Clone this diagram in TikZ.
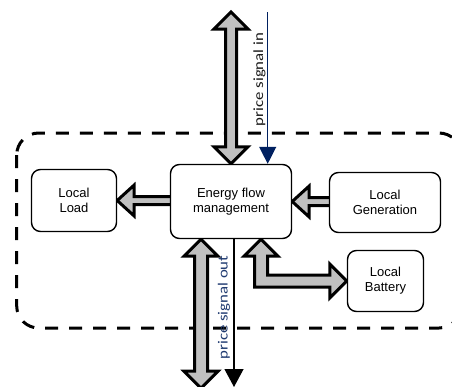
\documentclass[tikz,border=0pt]{standalone}
\usepackage{fontspec}
\setmainfont{Liberation Sans}
\newfontfamily\labelfont{Carlito}
\usetikzlibrary{calc,arrows.meta}
\definecolor{signalnavy}{HTML}{002060}
\definecolor{signaltext}{HTML}{1F3A70}
\definecolor{flowgray}{HTML}{C0C0C0}

% vertical two-headed energy flow: #1 upper tip, #2 lower tip, #3 shaft half width
\newcommand\updownflow[3]{%
  \draw[flow] (#1) -- ($(#1)+(17,17)$) -- ($(#1)+(#3,17)$) -- ($(#2)+(#3,-17)$)
    -- ($(#2)+(17,-17)$) -- (#2) -- ($(#2)+(-17,-17)$) -- ($(#2)+(-#3,-17)$)
    -- ($(#1)+(-#3,17)$) -- ($(#1)+(-17,17)$) -- cycle;}
% left-pointing energy flow: #1 tip, #2 tail
\newcommand\leftflow[2]{%
  \draw[flow] (#1) -- ($(#1)+(17,-15.5)$) -- ($(#1)+(17,-4)$) -- ($(#2)+(0,-4)$)
    -- ($(#2)+(0,4)$) -- ($(#1)+(17,4)$) -- ($(#1)+(17,15.5)$) -- cycle;}

\begin{document}
\begin{tikzpicture}[x=1pt,y=-1pt,
  unit/.style={draw, fill=white, line width=1.4pt, rounded corners=9pt,
    align=center, inner sep=0pt, font=\fontsize{13}{15}\selectfont},
  flow/.style={fill=flowgray, draw=black, line width=3pt, line join=miter},
  boundary/.style={draw, line width=3pt, dash pattern=on 13pt off 11pt, rounded corners=22pt},
  sigtext/.style={inner sep=0pt, rotate=90, font=\labelfont\fontsize{14}{16}\selectfont},
  sigline/.style={line width=1.2pt}]
\useasboundingbox (0,0) rectangle (452,386);
\clip (0,0) rectangle (452,386);

% household boundary
\draw[boundary] (16.7,133) rectangle (461,328);

% unit positions (boxes are drawn after the flows so their fill hides the flow ends)
\path (231,201.5) node[unit, minimum width=121pt, minimum height=74pt, draw=none, fill=none] (efm) {};
\path (74,200.5) node[unit, minimum width=85pt, minimum height=62pt, draw=none, fill=none] (load) {};
\path (385,202.5) node[unit, minimum width=111pt, minimum height=60pt, draw=none, fill=none] (gen) {};
\path (385.5,281) node[unit, minimum width=76pt, minimum height=61pt, draw=none, fill=none] (bat) {};

% flow end points
\coordinate (gridtop) at (231,12);
\coordinate (gridbot) at ($(efm.south)+(-30,0)$);
\coordinate (gridout) at ($(gridbot)+(0,149)$);
\coordinate (loadtail) at ($(efm.west |- load.east)+(4,0)$);
\coordinate (gentail) at ($(gen.west |- efm.east)+(4,0)$);
\coordinate (batup) at ($(efm.south)+(30,0)$);
\coordinate (batin) at (bat.west);

% energy flows
\updownflow{gridtop}{efm.north}{5.5}
\updownflow{gridbot}{gridout}{6.5}
\leftflow{load.east}{loadtail}
\leftflow{efm.east |- gentail}{gentail}
\draw[flow] (batup) -- ($(batup)+(17,17)$) -- ($(batup)+(6.5,17)$)
  -- ($(batup |- batin)+(6.5,-6)$) -- ($(batin)+(-17,-6)$) -- ($(batin)+(-17,-17)$)
  -- (batin) -- ($(batin)+(-17,17)$) -- ($(batin)+(-17,6)$)
  -- ($(batup |- batin)+(-6.5,6)$) -- ($(batup)+(-6.5,17)$) -- ($(batup)+(-17,17)$) -- cycle;

% units
\node[unit, minimum width=121pt, minimum height=74pt] (efmbox) at (efm) {Energy flow\\management};
\node[unit, minimum width=85pt, minimum height=62pt] (loadbox) at (load) {Local\\Load};
\node[unit, minimum width=111pt, minimum height=60pt] (genbox) at (gen) {Local\\Generation};
\node[unit, minimum width=76pt, minimum height=61pt] (batbox) at (bat) {Local\\Battery};

% price signals
\coordinate (pricein) at (267.7,12);
\coordinate (priceout) at (234,387);
\draw[sigline, signalnavy, -{Triangle[width=17pt,length=17pt]}] (pricein) -- (pricein |- efmbox.north);
\draw[sigline, black, -{Triangle[width=19pt,length=18pt]}] (priceout |- efmbox.south) -- (priceout);
\node[sigtext, text=black!90] (pinlabel) at (259.5,79.5) {\scalebox{1.2}[1]{price signal in}};
\node[sigtext, text=signaltext] (poutlabel) at (224,307.5) {\scalebox{1.2}[1]{price signal out}};
\end{tikzpicture}
\end{document}
